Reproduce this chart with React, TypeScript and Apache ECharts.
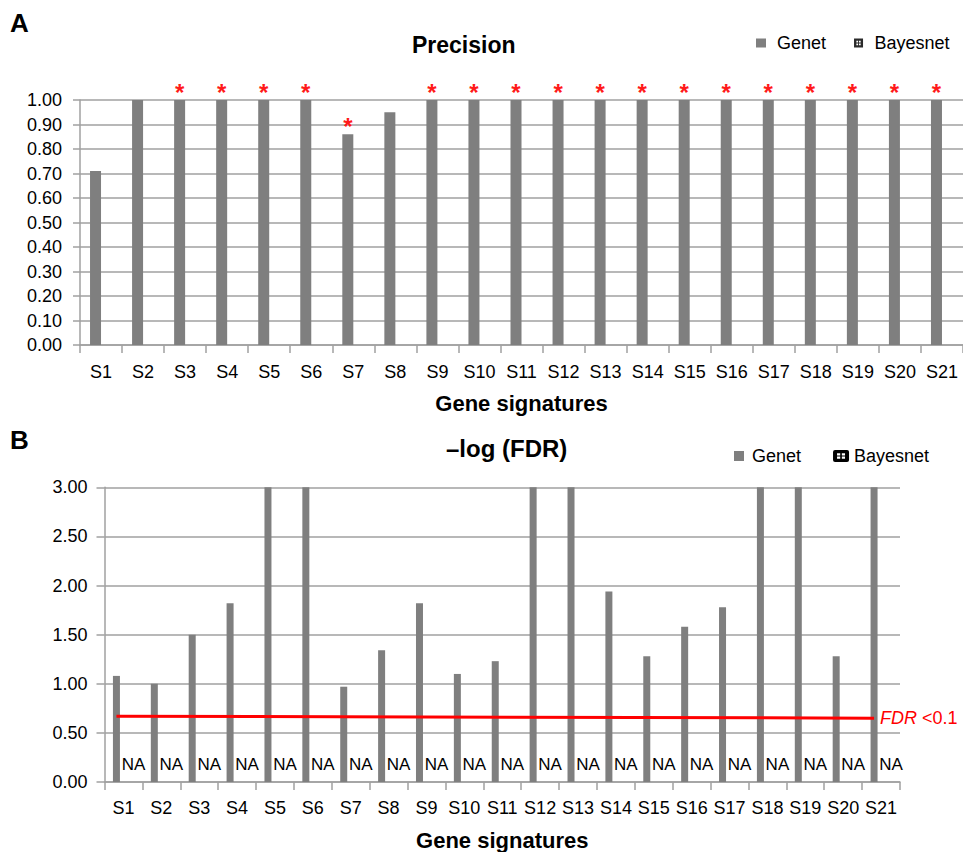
import React, { useEffect, useRef } from 'react';
import * as echarts from 'echarts';

const categories = ['S1', 'S2', 'S3', 'S4', 'S5', 'S6', 'S7', 'S8', 'S9', 'S10', 'S11', 'S12', 'S13', 'S14', 'S15', 'S16', 'S17', 'S18', 'S19', 'S20', 'S21'];

// Panel A: precision
const precisionGenet = [0.71, 1.0, 1.0, 1.0, 1.0, 1.0, 0.86, 0.95, 1.0, 1.0, 1.0, 1.0, 1.0, 1.0, 1.0, 1.0, 1.0, 1.0, 1.0, 1.0, 1.0];
const precisionBayesnet = [0, 0, 0, 0, 0, 0, 0, 0, 0, 0, 0, 0, 0, 0, 0, 0, 0, 0, 0, 0, 0];
const precisionStar = [false, false, true, true, true, true, true, false, true, true, true, true, true, true, true, true, true, true, true, true, true];

// Panel B: -log(FDR)
const fdrGenet = [1.08, 1.0, 1.5, 1.82, 3.0, 3.0, 0.97, 1.34, 1.82, 1.1, 1.23, 3.0, 3.0, 1.94, 1.28, 1.58, 1.78, 3.0, 3.0, 1.28, 3.0];
const fdrBayesnet = [0, 0, 0, 0, 0, 0, 0, 0, 0, 0, 0, 0, 0, 0, 0, 0, 0, 0, 0, 0, 0];
const fdrBayesnetLabels = ['NA', 'NA', 'NA', 'NA', 'NA', 'NA', 'NA', 'NA', 'NA', 'NA', 'NA', 'NA', 'NA', 'NA', 'NA', 'NA', 'NA', 'NA', 'NA', 'NA', 'NA'];
const fdrThreshold = [0.67, 0.65]; // drawn threshold line (start at S1, end at S21)

const FONT = "'Liberation Sans', Arial, Helvetica, sans-serif";
const GRID = '#a0a0a0';
const BAR = '#7f7f7f';
const RED = '#ff0000';

const bayesIconA = 'path://M0,0H10V10H0Z M2.6,2.6V4.5H4.5V2.6Z M5.5,2.6V4.5H7.4V2.6Z M2.6,5.5V7.4H4.5V5.5Z M5.5,5.5V7.4H7.4V5.5Z';
const bayesIconB = 'path://M2,0H14Q16,0 16,2V10Q16,12 14,12H2Q0,12 0,10V2Q0,0 2,0Z M4,3.2V5.4H7.2V3.2Z M8.8,3.2V5.4H12V3.2Z M4,6.6V8.8H7.2V6.6Z M8.8,6.6V8.8H12V6.6Z';
const genetIconB = 'path://M0,0M16,12M3,1H13V11H3Z';

const axisCommon = {
  axisLine: { show: true, lineStyle: { color: GRID, width: 1.5 } },
  axisTick: { show: true, lineStyle: { color: GRID, width: 1.5 } },
};

function buildOption() {
  return {
    animation: false,
    backgroundColor: '#ffffff',
    textStyle: { fontFamily: FONT, color: '#000' },
    title: [
      { text: 'A', left: 10, top: 10, padding: 0, textStyle: { fontSize: 26, fontWeight: 'bold', color: '#000', fontFamily: FONT } },
      { text: 'Precision', left: 412, top: 33, padding: 0, textStyle: { fontSize: 23, fontWeight: 'bold', color: '#000', fontFamily: FONT } },
      { text: 'B', left: 10, top: 427, padding: 0, textStyle: { fontSize: 26, fontWeight: 'bold', color: '#000', fontFamily: FONT } },
      { text: '\u2013log (FDR)', left: 446, top: 436, padding: 0, textStyle: { fontSize: 24, fontWeight: 'bold', color: '#000', fontFamily: FONT } },
    ],
    legend: [
      {
        left: 756, top: 34, padding: 0, itemWidth: 10, itemHeight: 9, itemGap: 28, selectedMode: false,
        textStyle: { fontSize: 18, color: '#000', fontFamily: FONT, padding: [0, 0, 0, 6] },
        data: [
          { name: 'Genet', icon: 'rect', itemStyle: { color: BAR } },
          { name: 'Bayesnet', icon: bayesIconA, itemStyle: { color: '#2a2a2a' } },
        ],
      },
      {
        left: 731, top: 447, padding: 0, itemWidth: 16, itemHeight: 12, itemGap: 32, selectedMode: false,
        textStyle: { fontSize: 18, color: '#000', fontFamily: FONT },
        data: [
          { name: 'Genet', icon: genetIconB, itemStyle: { color: BAR } },
          { name: 'Bayesnet', icon: bayesIconB, itemStyle: { color: '#000' } },
        ],
      },
    ],
    grid: [
      { left: 80, top: 100, width: 885, height: 245 },
      { left: 104.5, top: 487.3, width: 795.5, height: 296 },
    ],
    xAxis: [
      {
        type: 'category', gridIndex: 0, data: categories, ...axisCommon,
        axisTick: { show: true, length: 8, lineStyle: { color: GRID, width: 1.5 } },
        axisLabel: { interval: 0, margin: 18, fontSize: 18, color: '#000', fontFamily: FONT },
        name: 'Gene signatures', nameLocation: 'middle', nameGap: 47,
        nameTextStyle: { fontSize: 22, fontWeight: 'bold', color: '#000', fontFamily: FONT },
      },
      {
        type: 'category', gridIndex: 1, data: categories, ...axisCommon,
        axisTick: { show: true, length: 8, lineStyle: { color: GRID, width: 1.5 } },
        axisLabel: { interval: 0, margin: 17, fontSize: 18, color: '#000', fontFamily: FONT },
        name: 'Gene signatures', nameLocation: 'middle', nameGap: 47,
        nameTextStyle: { fontSize: 22, fontWeight: 'bold', color: '#000', fontFamily: FONT },
      },
    ],
    yAxis: [
      {
        type: 'value', gridIndex: 0, min: 0, max: 1, interval: 0.1, ...axisCommon,
        axisTick: { show: true, length: 7, lineStyle: { color: GRID, width: 1.5 } },
        splitLine: { show: true, lineStyle: { color: GRID, width: 1.5 } },
        axisLabel: { margin: 18, fontSize: 18, color: '#000', fontFamily: FONT, formatter: (v: number) => v.toFixed(2) },
      },
      {
        type: 'value', gridIndex: 1, min: 0, max: 3, interval: 0.5, ...axisCommon,
        axisTick: { show: true, length: 8, lineStyle: { color: GRID, width: 1.5 } },
        splitLine: { show: true, lineStyle: { color: GRID, width: 1.5 } },
        axisLabel: { margin: 17, fontSize: 18, color: '#000', fontFamily: FONT, formatter: (v: number) => v.toFixed(2) },
      },
    ],
    series: [
      {
        name: 'Genet', type: 'bar', xAxisIndex: 0, yAxisIndex: 0, barWidth: 11, barGap: '0%',
        itemStyle: { color: BAR },
        label: { show: false, position: 'top', distance: -4, formatter: '*', color: '#ff1a1a', fontSize: 24, fontWeight: 'bold', fontFamily: FONT },
        data: precisionGenet.map((v, i) => ({ value: v, label: { show: precisionStar[i] } })),
      },
      {
        name: 'Bayesnet', type: 'bar', xAxisIndex: 0, yAxisIndex: 0, barWidth: 11, barGap: '0%',
        itemStyle: { color: '#222' },
        data: precisionBayesnet,
      },
      {
        name: 'Genet', type: 'bar', xAxisIndex: 1, yAxisIndex: 1, barWidth: 7, barGap: '100%',
        itemStyle: { color: BAR },
        data: fdrGenet,
        markLine: {
          silent: true, symbol: 'none',
          lineStyle: { color: RED, width: 3, type: 'solid' },
          label: {
            show: true, position: 'end', distance: 6, formatter: '{i|FDR} <0.1', color: RED, fontSize: 18, fontFamily: FONT,
            rich: { i: { fontStyle: 'italic', color: RED, fontSize: 18, fontFamily: FONT } },
          },
          data: [[{ coord: [categories[0], fdrThreshold[0]] }, { coord: [categories[categories.length - 1], fdrThreshold[1]] }]],
        },
      },
      {
        name: 'Bayesnet', type: 'bar', xAxisIndex: 1, yAxisIndex: 1, barWidth: 7, barGap: '100%',
        itemStyle: { color: '#000' },
        label: {
          show: true, position: 'top', distance: 9, offset: [3, 0], fontSize: 17, color: '#000', fontFamily: FONT,
          formatter: (p: any) => fdrBayesnetLabels[p.dataIndex],
        },
        data: fdrBayesnet,
      },
    ],
  };
}

export default function App() {
  const ref = useRef<HTMLDivElement>(null);
  useEffect(() => {
    const chart = echarts.init(ref.current as HTMLDivElement, null, { renderer: 'svg' });
    chart.setOption(buildOption() as any);
    return () => chart.dispose();
  }, []);
  return (
    <div
      ref={ref}
      style={{ position: 'absolute', left: 0, top: 0, width: 963, height: 852, background: '#fff' }}
    />
  );
}
